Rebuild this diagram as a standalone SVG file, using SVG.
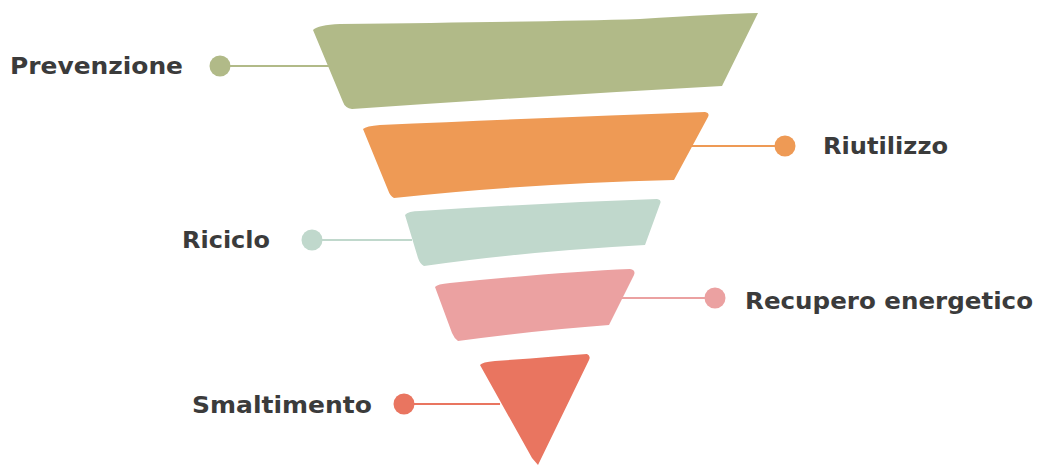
<svg xmlns="http://www.w3.org/2000/svg" width="1039" height="465" viewBox="0 0 1039 465">
<style>
.lbl{font-family:"DejaVu Sans","Liberation Sans",sans-serif;font-weight:bold;font-size:23px;fill:#3b3b3b}
.ln{stroke-width:2;fill:none}
</style>
<rect width="1039" height="465" fill="#ffffff"/>
<g id="connectors">
<line class="ln" x1="220" y1="66" x2="335" y2="66" stroke="#B1BA88"/>
<line class="ln" x1="690" y1="146" x2="785" y2="146" stroke="#EE9A55"/>
<line class="ln" x1="312" y1="240" x2="412" y2="240" stroke="#C0D8CC"/>
<line class="ln" x1="620" y1="298" x2="715" y2="298" stroke="#EBA1A1"/>
<line class="ln" x1="404" y1="404" x2="500" y2="404" stroke="#E97560"/>
</g>
<g id="prevenzione">
<path d="M313,30 Q318,25 340,24 Q540,22 640,19 Q720,14 758,13 L722,86 Q540,96 352,109 Q345,108 343,102 Z" fill="#B1BA88"/>
<circle cx="220" cy="66" r="10.5" fill="#B1BA88"/>
<text class="lbl" x="10" y="74" textLength="173" lengthAdjust="spacingAndGlyphs">Prevenzione</text>
</g>
<g id="riutilizzo">
<path d="M363,129 Q366,126 380,125 Q560,117 705,112 Q710,113 708,117 L674,180 Q520,184 394,198 Q390,196 388,190 Z" fill="#EE9A55"/>
<circle cx="785" cy="146" r="10.5" fill="#EE9A55"/>
<text class="lbl" x="823" y="154" textLength="125" lengthAdjust="spacingAndGlyphs">Riutilizzo</text>
</g>
<g id="riciclo">
<path d="M405,215 Q408,211 420,211 Q540,203 657,199 Q662,200 660,204 L645,245 Q520,252 424,266 Q420,264 418,258 Z" fill="#C0D8CC"/>
<circle cx="312" cy="240" r="10.5" fill="#C0D8CC"/>
<text class="lbl" x="182" y="248" textLength="88" lengthAdjust="spacingAndGlyphs">Riciclo</text>
</g>
<g id="recupero">
<path d="M435,287 Q437,284 450,283 Q560,272 630,269 Q636,270 634,275 L609,325 Q540,330 458,341 Q454,338 452,333 Z" fill="#EBA1A1"/>
<circle cx="715" cy="298" r="10.5" fill="#EBA1A1"/>
<text class="lbl" x="745" y="309" textLength="288" lengthAdjust="spacingAndGlyphs">Recupero energetico</text>
</g>
<g id="smaltimento">
<path d="M480,365 Q482,362 495,361 Q550,357 587,354 Q591,356 589,360 L538,465 L532,458 Z" fill="#E97560"/>
<circle cx="404" cy="404" r="10.5" fill="#E97560"/>
<text class="lbl" x="192" y="413" textLength="180" lengthAdjust="spacingAndGlyphs">Smaltimento</text>
</g>
</svg>
